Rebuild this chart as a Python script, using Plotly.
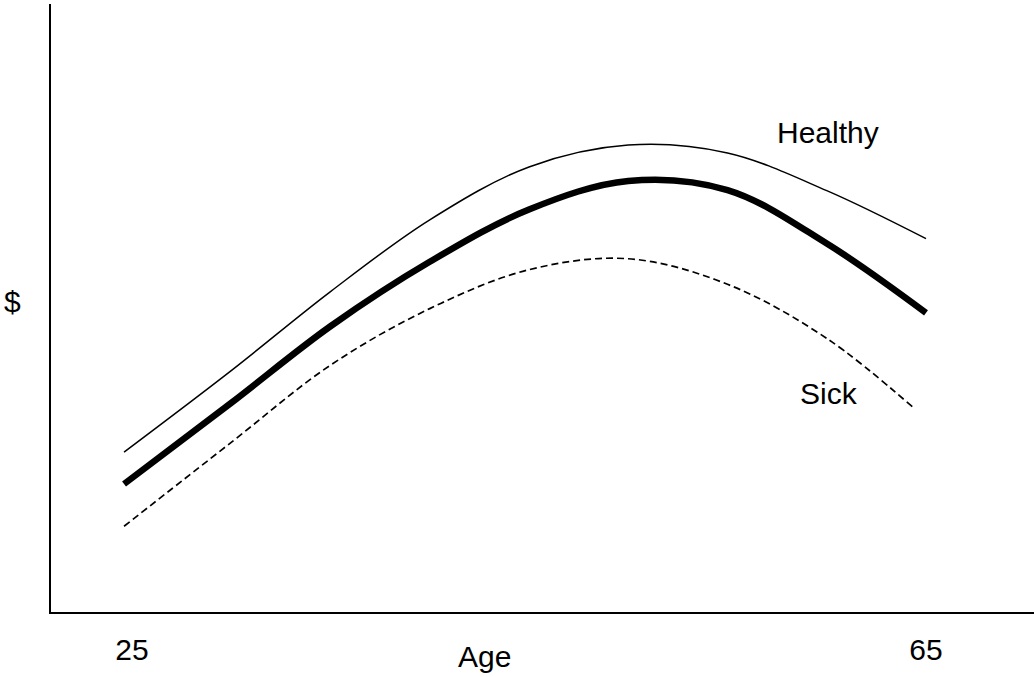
import plotly.graph_objects as go

# Ages (x) for the curves
ages = [24.6, 30, 35, 40, 45, 50, 55, 60, 65]
ages_sick = [24.6, 30, 35, 40, 45, 50, 55, 60, 64.4]

# Earnings ($, arbitrary units 0-100)
healthy = [26.3, 39.7, 52.7, 64.5, 73.2, 76.8, 75.5, 69.3, 61.4]
average = [21.05, 34.4, 47.0, 57.6, 66.2, 70.9, 69.4, 60.6, 49.2]
sick = [14.1, 27.9, 40.6, 49.9, 56.3, 58.1, 53.9, 45.0, 33.5]

tick_vals = [25, 65]
tick_text = ["25", "65"]

FONT = "Liberation Sans, Arial, sans-serif"
FS = 30

fig = go.Figure()
fig.add_trace(go.Scatter(x=ages, y=healthy, mode="lines",
                         line=dict(color="black", width=1.5, shape="spline", smoothing=1.0),
                         name="Healthy", hoverinfo="skip"))
fig.add_trace(go.Scatter(x=ages, y=average, mode="lines",
                         line=dict(color="black", width=6.5, shape="spline", smoothing=1.0),
                         name="Average", hoverinfo="skip"))
fig.add_trace(go.Scatter(x=ages_sick, y=sick, mode="lines",
                         line=dict(color="black", width=1.7, dash="7px,4px", shape="spline", smoothing=1.0),
                         name="Sick", hoverinfo="skip"))

fig.update_layout(
    width=1034, height=677,
    margin=dict(l=51, r=0, t=4, b=65),
    paper_bgcolor="white", plot_bgcolor="white",
    showlegend=False,
    hovermode=False,
    font=dict(family=FONT, size=FS, color="black"),
    xaxis=dict(range=[20.92, 70.44], showgrid=False, zeroline=False,
               showline=True, linecolor="black", linewidth=2,
               tickmode="array", tickvals=tick_vals, ticktext=tick_text,
               ticks="", ticklabelstandoff=10,
               tickfont=dict(family=FONT, size=FS, color="black")),
    yaxis=dict(range=[0, 100], showgrid=False, zeroline=False,
               showline=True, linecolor="black", linewidth=2,
               showticklabels=False, ticks=""),
    annotations=[
        dict(text="Age", x=0.4405, y=-0.074, xref="paper", yref="paper",
             xanchor="center", yanchor="middle", showarrow=False,
             font=dict(family=FONT, size=FS, color="black")),
        dict(text="$", x=-0.039, y=0.51, xref="paper", yref="paper",
             xanchor="center", yanchor="middle", showarrow=False,
             font=dict(family=FONT, size=FS, color="black")),
        dict(text="Healthy", x=60.06, y=78.8, xref="x", yref="y",
             xanchor="center", yanchor="middle", showarrow=False,
             font=dict(family=FONT, size=FS, color="black")),
        dict(text="Sick", x=60.1, y=36.0, xref="x", yref="y",
             xanchor="center", yanchor="middle", showarrow=False,
             font=dict(family=FONT, size=FS, color="black")),
    ],
)

fig.write_html("out.html", config={"displayModeBar": False},
               post_script="document.body.style.margin='0px';document.body.style.padding='0px';")
